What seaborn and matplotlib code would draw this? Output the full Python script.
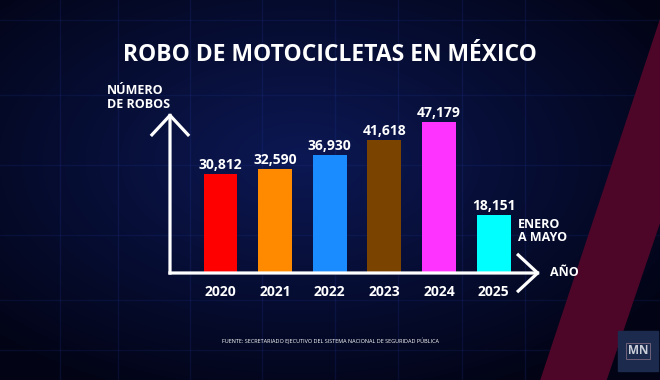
import matplotlib
matplotlib.use('Agg')
import matplotlib.pyplot as plt
import seaborn as sns
import pandas as pd
import numpy as np
from matplotlib.patches import Polygon, Rectangle

# Datos
anios = ['2020', '2021', '2022', '2023', '2024', '2025']
robos = [30812, 32590, 36930, 41618, 47179, 18151]
colores = ['#ff0000', '#ff8a00', '#1a8cff', '#7b4300', '#ff33ff', '#00ffff']

titulo = 'ROBO DE MOTOCICLETAS EN MÉXICO'
fuente = 'FUENTE: SECRETARIADO EJECUTIVO DEL SISTEMA NACIONAL DE SEGURIDAD PÚBLICA'

df = pd.DataFrame({'Año': anios, 'Robos': robos})

plt.rcParams['font.family'] = ['Open Sans', 'DejaVu Sans']

fig = plt.figure(figsize=(6.6, 3.8), dpi=100)

# Fondo azul oscuro con degradado
bg = fig.add_axes([0, 0, 1, 1], zorder=0)
bg.set_xlim(0, 660)
bg.set_ylim(380, 0)
bg.axis('off')
yy, xx = np.mgrid[0:380, 0:660]
d = np.clip(np.sqrt(((xx - 300) / 430) ** 2 + ((yy - 160) / 250) ** 2), 0, 1)
centro = np.array([12, 24, 84]) / 255
borde = np.array([2, 4, 22]) / 255
img = centro[None, None, :] * (1 - d[..., None]) + borde[None, None, :] * d[..., None]
bg.imshow(img, extent=[0, 660, 380, 0], aspect='auto', zorder=0)

# rejilla tenue
for x in [60, 118, 190, 262, 335, 398, 462, 525]:
    bg.plot([x, x], [0, 380], color='#2d4bc0', alpha=0.14, lw=1, zorder=1)
for y in [20, 95, 165, 235, 300, 350]:
    bg.plot([0, 660], [y, y], color='#2d4bc0', alpha=0.12, lw=1, zorder=1)

# franja roja diagonal
bg.add_patch(Polygon([(541, 380), (667, 0), (735, 0), (606, 380)],
                     closed=True, color='#4e0628', zorder=2))

# Textos
bg.text(330, 55, titulo, color='white', fontsize=16.5, fontweight='bold',
        ha='center', va='center', zorder=5)
bg.text(107, 84, 'NÚMERO\nDE ROBOS', color='white', fontsize=9, fontweight='bold',
        ha='left', va='top', linespacing=1.1, zorder=5)
bg.text(518, 231, 'ENERO\nA MAYO', color='white', fontsize=9, fontweight='bold',
        ha='left', va='center', linespacing=1.05, zorder=5)
bg.text(550, 273, 'AÑO', color='white', fontsize=9, fontweight='bold',
        ha='left', va='center', zorder=5)
bg.text(331, 341, fuente, color='white', fontsize=3.95, ha='center', va='center', zorder=5)

# logo MN
bg.add_patch(Rectangle((618, 331), 40, 40, color='#1c2b4d', zorder=5))
bg.text(638, 351, 'MN', color='#c9cdd8', fontsize=8.5, fontweight='bold',
        ha='center', va='center', zorder=6,
        bbox=dict(boxstyle='square,pad=0.15', fc='none', ec='#7d6a80', lw=0.6))

# Gráfico de barras
ax = fig.add_axes([170 / 660, 107 / 380, 370 / 660, 160 / 380], zorder=3)
ax.patch.set_alpha(0)
sns.barplot(data=df, x='Año', y='Robos', hue='Año', palette=colores, legend=False,
            width=0.62, saturation=1, ax=ax)
ax.set_xlim(-0.925, 5.85)
ax.set_ylim(0, 50000)

for c in ax.containers:
    ax.bar_label(c, fmt='{:,.0f}', padding=1.5, color='white', fontsize=10,
                 fontweight='bold')

for s in ax.spines.values():
    s.set_visible(False)
ax.set_yticks([])
ax.set_xlabel('')
ax.set_ylabel('')
ax.tick_params(axis='x', length=0, pad=8.5, labelsize=10, labelcolor='white')
for lab in ax.get_xticklabels():
    lab.set_fontweight('bold')

# ejes con flechas
flecha = dict(arrowstyle='->,head_length=0.7,head_width=0.65', lw=2.3, color='white',
              mutation_scale=20, shrinkA=0, shrinkB=0, capstyle='projecting')
ax.annotate('', xy=(0, 1), xytext=(0, 0), xycoords='axes fraction',
            arrowprops=flecha, annotation_clip=False)
ax.annotate('', xy=(1, 0), xytext=(0, 0), xycoords='axes fraction',
            arrowprops=flecha, annotation_clip=False)

fig.savefig('out.png', dpi=100)
